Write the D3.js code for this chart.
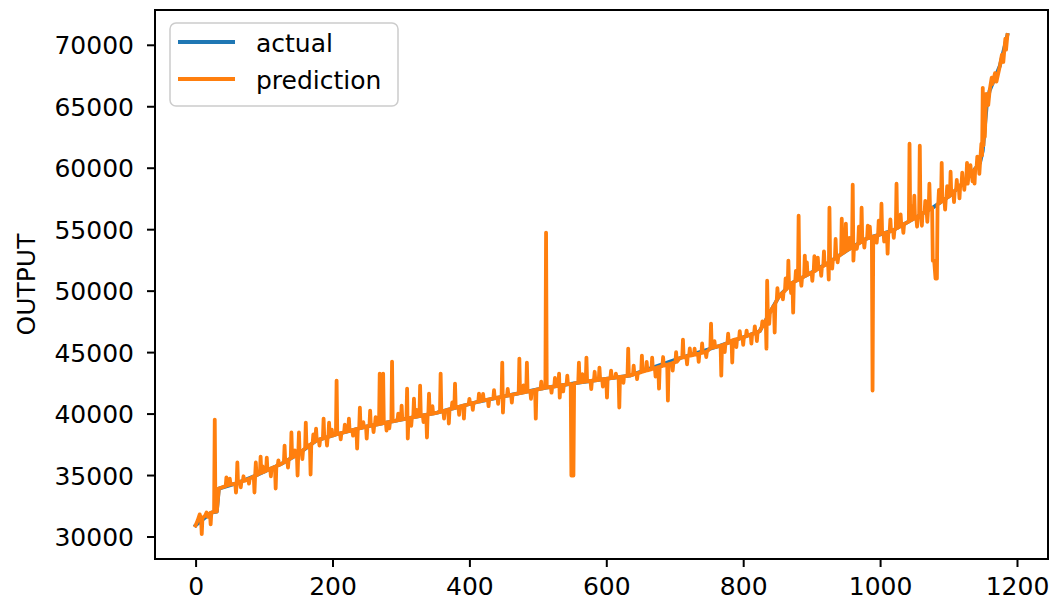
<!DOCTYPE html>
<html>
<head>
<meta charset="utf-8">
<script src="https://cdn.jsdelivr.net/npm/d3@7"></script>
<style>
  body { margin: 0; background: #fff; }
  text { font-family: "DejaVu Sans", sans-serif; fill: #000; }
</style>
</head>
<body>
<svg id="chart" width="1055" height="603"></svg>
<script>
// sorted target values ("actual") as [index, value]
const actual = [
  [0, 30900], [23, 31950], [31, 32030], [34, 33900], [58, 34300], [88, 34960],
  [126, 35930], [151, 36750], [176, 37800], [205, 38300], [249, 38940], [293, 39430],
  [353, 40080], [414, 40980], [512, 42110], [560, 42520], [634, 43090], [707, 44500],
  [765, 45500], [824, 46700], [843, 48620], [853, 49600], [872, 50650], [897, 51380],
  [922, 52190], [951, 53250], [980, 54230], [1018, 54880], [1039, 55530], [1077, 56750],
  [1102, 57720], [1127, 59100], [1146, 60400], [1150, 61380], [1156, 65200], [1160, 66260],
  [1175, 68290], [1186, 70800]
];

// model output: follows the actual curve with spikes, [index, value]
const prediction = [
  [0, 30900], [3, 31300], [6, 31800], [8, 31400], [9, 30200], [10, 31500], [14, 31700],
  [16, 31950], [18, 31600], [21, 31900], [22, 30980], [23, 31950], [27, 32000], [28, 39510],
  [29, 32030], [31, 32030], [34, 33900], [44, 34100], [45, 34800], [46, 34150],
  [49, 34200], [50, 34700], [51, 34220], [58, 34300], [59, 33580], [60, 34300], [61, 36020],
  [62, 34330], [65, 34450], [66, 34000], [67, 34470], [69, 34500], [70, 34900], [71, 34520],
  [77, 34680], [78, 34300], [79, 34700], [85, 34900], [86, 33580], [87, 34940], [88, 36020],
  [89, 34980], [94, 35150], [95, 36500], [96, 35170], [97, 35200], [98, 35700], [99, 35240],
  [103, 35350], [104, 36420], [105, 35400], [109, 35510], [110, 34900], [111, 35560],
  [116, 35680], [117, 33900], [118, 35730], [120, 35780], [121, 36200], [122, 35800],
  [126, 35930], [129, 36030], [130, 37400], [131, 36100], [134, 36200], [135, 35600],
  [136, 36250], [139, 36360], [140, 38460], [141, 36430], [144, 36520], [145, 37000],
  [146, 36580], [148, 36650], [149, 34960], [150, 36720], [151, 38460], [152, 36790],
  [155, 36920], [156, 36300], [157, 37000], [160, 37170], [161, 39270], [162, 37250],
  [167, 37460], [168, 35040], [169, 37500], [171, 37590], [172, 38300], [173, 37670],
  [175, 37760], [176, 38780], [177, 37820], [180, 37870], [181, 37400], [182, 37900],
  [186, 37980], [187, 39590], [188, 38000], [191, 38050], [192, 37400], [193, 38100],
  [194, 38110], [195, 39270], [196, 38150], [198, 38180], [199, 38700], [200, 38200],
  [205, 38300], [206, 42680], [207, 38330], [211, 38390], [212, 37900], [213, 38420],
  [217, 38480], [218, 39100], [219, 38500], [223, 38560], [224, 39590], [225, 38580],
  [229, 38650], [230, 38200], [231, 38670], [235, 38740], [236, 37150], [237, 38760],
  [239, 38790], [240, 40490], [241, 38810], [244, 38870], [245, 39300], [246, 38890],
  [249, 38940], [250, 37970], [251, 38960], [254, 39000], [255, 40240], [256, 39020],
  [259, 39050], [260, 38500], [261, 39070], [262, 39080], [263, 39700], [264, 39100],
  [268, 39150], [269, 43250], [270, 39170], [273, 39200], [274, 43250], [275, 39220],
  [278, 39260], [279, 38620], [280, 39280], [282, 39300], [283, 38800], [284, 39320],
  [286, 39350], [287, 44230], [288, 39370], [293, 39430], [295, 39450], [296, 40000],
  [297, 39470], [300, 39510], [301, 40650], [302, 39530], [308, 39590], [309, 42030],
  [310, 37970], [311, 39620], [314, 39650], [315, 39000], [316, 39670], [318, 39700],
  [319, 41220], [320, 39720], [322, 39740], [323, 40300], [324, 39760], [327, 39800],
  [328, 42280], [329, 39810], [332, 39850], [333, 39300], [334, 39870], [337, 39900],
  [338, 38050], [339, 39920], [340, 39930], [341, 41630], [342, 39950], [345, 39980],
  [346, 40600], [347, 40000], [353, 40080], [357, 40140], [358, 43250], [359, 40160],
  [362, 40200], [363, 39600], [364, 40230], [369, 40320], [370, 39190], [371, 40350],
  [374, 40390], [375, 40900], [376, 40420], [378, 40450], [379, 42440], [380, 40480],
  [384, 40540], [385, 39900], [386, 40570], [391, 40640], [392, 39590], [393, 40670],
  [399, 40760], [400, 41200], [401, 40790], [404, 40830], [405, 40300], [406, 40860],
  [413, 40970], [414, 41630], [415, 40990], [419, 41050], [420, 41600], [421, 41070],
  [427, 41140], [428, 40600], [429, 41160], [435, 41230], [436, 41900], [437, 41250],
  [441, 41300], [442, 40800], [443, 41320], [447, 41360], [448, 44150], [449, 40080],
  [450, 41390], [455, 41450], [456, 42000], [457, 41470], [461, 41520], [462, 40900],
  [463, 41540], [472, 41640], [473, 44470], [474, 41660], [478, 41710], [479, 42300],
  [480, 41730], [483, 41760], [484, 44150], [485, 41780], [489, 41830], [490, 41200],
  [491, 41850], [496, 41920], [497, 39590], [498, 41940], [504, 42010], [505, 42600],
  [506, 42030], [511, 42100], [512, 54720], [513, 42120], [519, 42170], [520, 41700],
  [521, 42180], [524, 42200], [525, 42900], [526, 42220], [530, 42270], [531, 43250],
  [532, 41300], [533, 42290], [536, 42310], [537, 41800], [538, 42330], [542, 42370],
  [543, 43090], [544, 42390], [548, 42420], [549, 34960], [552, 34960], [553, 42460],
  [559, 42510], [560, 44150], [561, 42530], [564, 42550], [565, 43200], [566, 42570],
  [570, 42600], [571, 44550], [572, 42620], [577, 42650], [578, 42000], [579, 42670],
  [582, 42690], [583, 43400], [584, 42700], [589, 42750], [590, 43740], [591, 42770],
  [594, 42790], [595, 42200], [596, 42800], [600, 42830], [601, 41300], [602, 42850],
  [606, 42880], [607, 43500], [608, 42890], [613, 42930], [614, 43250], [615, 42940],
  [618, 42970], [619, 40490], [620, 42980], [624, 43010], [625, 42500], [626, 43030],
  [631, 43070], [632, 45280], [633, 43080], [634, 43090], [639, 43170], [640, 43900],
  [641, 43210], [644, 43260], [645, 42800], [646, 43290], [651, 43370], [652, 44720],
  [653, 43410], [658, 43490], [659, 44200], [660, 43510], [666, 43620], [667, 44550],
  [668, 43640], [671, 43690], [672, 43000], [673, 43710], [676, 43780], [677, 42030],
  [678, 43800], [682, 43880], [683, 44600], [684, 43900], [689, 43980], [690, 41060],
  [691, 44000], [696, 44100], [697, 43500], [698, 44130], [701, 44180], [702, 45000],
  [703, 44200], [707, 44500], [711, 44560], [712, 46020], [713, 44570], [717, 44640],
  [718, 44000], [719, 44670], [721, 44700], [722, 45300], [723, 44720], [728, 44770],
  [729, 45280], [730, 44790], [734, 44860], [735, 44200], [736, 44880], [739, 44930],
  [740, 45700], [741, 44950], [745, 45010], [746, 44600], [747, 45030], [752, 45320],
  [753, 47320], [754, 45340], [757, 45390], [758, 45900], [759, 45410], [765, 45500],
  [767, 45530], [768, 43090], [769, 45560], [772, 45620], [773, 45000], [774, 45660],
  [777, 45720], [778, 46500], [779, 45760], [783, 45920], [784, 44150], [785, 45970],
  [789, 46030], [790, 45400], [791, 46060], [794, 46100], [795, 46700], [796, 46130],
  [799, 46180], [800, 45600], [801, 46210], [804, 46290], [805, 46750], [806, 46330],
  [811, 46430], [812, 45700], [813, 46460], [816, 46520], [817, 47100], [818, 46550],
  [819, 46570], [820, 45900], [821, 46600], [824, 46700], [827, 47000], [828, 47500],
  [829, 47100], [833, 47600], [834, 45280], [835, 50810], [836, 47900], [837, 48000],
  [838, 47300], [839, 48200], [843, 48620], [845, 48800], [846, 46590], [847, 48980],
  [849, 49200], [850, 50200], [851, 49400], [853, 49600], [857, 49800], [858, 49300],
  [859, 49900], [861, 49980], [862, 51000], [863, 50100], [865, 50260], [866, 52440],
  [867, 50370], [869, 50480], [870, 49800], [871, 50590], [872, 50650], [873, 48210],
  [874, 50700], [876, 50760], [877, 51600], [878, 50820], [880, 50880], [881, 56100],
  [882, 50940], [884, 51000], [885, 50400], [886, 51060], [889, 51140], [890, 52850],
  [891, 51200], [892, 51230], [893, 52300], [894, 51290], [897, 51380], [900, 51480],
  [901, 50800], [902, 51540], [903, 51570], [904, 52800], [905, 51600], [908, 51740],
  [909, 52680], [910, 51770], [913, 51860], [914, 51200], [915, 51930], [917, 52000],
  [918, 53200], [919, 52060], [922, 52190], [924, 52260], [925, 50890], [926, 56750],
  [927, 52370], [929, 52440], [930, 51800], [931, 52480], [934, 52620], [935, 54200],
  [936, 52700], [937, 52730], [938, 52300], [939, 52770], [943, 52950], [944, 55850],
  [945, 53030], [949, 53180], [950, 55450], [951, 53250], [954, 53350], [955, 54300],
  [956, 53420], [959, 53520], [960, 58620], [961, 52440], [962, 53600], [965, 53700],
  [966, 53400], [967, 53790], [968, 53800], [969, 55200], [970, 53860], [972, 53960],
  [973, 56750], [974, 54030], [976, 54100], [977, 53500], [978, 54160], [980, 54230],
  [981, 54240], [982, 55280], [983, 54280], [984, 54290], [985, 55200], [986, 54320],
  [988, 54370], [989, 41870], [990, 54400], [994, 54460], [995, 53900], [996, 54500],
  [997, 54510], [998, 55700], [999, 54540], [1001, 54630], [1002, 57070], [1003, 54650],
  [1005, 54680], [1006, 54000], [1007, 54700], [1010, 54730], [1011, 53010], [1012, 54770],
  [1014, 54800], [1015, 55800], [1016, 54840], [1018, 54880], [1019, 54910], [1020, 54300],
  [1021, 54970], [1023, 55030], [1024, 58700], [1025, 55090], [1029, 55220], [1030, 56200],
  [1031, 55280], [1033, 55340], [1034, 54700], [1035, 55400], [1039, 55530], [1042, 55620],
  [1043, 61950], [1044, 55690], [1045, 55720], [1046, 56900], [1047, 55780], [1049, 55840],
  [1050, 57720], [1051, 55880], [1053, 55940], [1054, 55200], [1055, 56000], [1057, 56100],
  [1058, 61790], [1059, 56130], [1060, 56160], [1061, 55280], [1062, 56280], [1065, 56380],
  [1066, 57300], [1067, 56440], [1068, 56470], [1069, 55600], [1070, 56530], [1071, 56560],
  [1072, 58700], [1073, 56620], [1076, 56720], [1077, 52440], [1079, 52440], [1081, 50980],
  [1083, 50980], [1084, 57020], [1085, 57060], [1086, 58200], [1087, 57140], [1089, 57220],
  [1090, 60400], [1091, 57290], [1094, 57410], [1095, 56600], [1096, 57490], [1097, 57530],
  [1098, 58500], [1099, 57600], [1102, 57720], [1103, 59670], [1104, 57830], [1107, 58000],
  [1108, 57200], [1109, 58110], [1111, 58220], [1112, 59000], [1113, 58340], [1115, 58440],
  [1116, 57500], [1117, 58550], [1119, 58660], [1120, 59600], [1121, 58770], [1122, 58830],
  [1123, 58200], [1124, 58940], [1126, 59050], [1127, 60400], [1128, 58700], [1129, 59240],
  [1131, 59370], [1132, 60200], [1133, 59510], [1134, 59580], [1135, 58900], [1136, 59710],
  [1137, 59780], [1138, 58700], [1139, 59920], [1141, 60060], [1142, 60900], [1143, 60200],
  [1144, 60260], [1145, 59500], [1146, 60400], [1148, 61950], [1149, 61000], [1150, 66500],
  [1151, 61800], [1152, 63500], [1153, 62500], [1155, 66000], [1156, 65200], [1158, 65100],
  [1160, 66260], [1163, 67320], [1164, 66800], [1168, 67700], [1170, 67000], [1175, 68290],
  [1178, 69200], [1180, 68600], [1183, 70500], [1184, 69600], [1186, 70800]
];

const xTicks = [0, 200, 400, 600, 800, 1000, 1200];
const yTicks = [30000, 35000, 40000, 45000, 50000, 55000, 60000, 65000, 70000];
const seriesNames = ['actual', 'prediction'];
const seriesColors = ['#1f77b4', '#ff7f0e'];

const svg = d3.select('#chart');
const margin = {top: 10, right: 7, bottom: 44, left: 155};
const width = 1055 - margin.left - margin.right,
      height = 603 - margin.top - margin.bottom;

const g = svg.append('g')
    .attr('transform', 'translate(' + margin.left + ',' + margin.top + ')');

// matplotlib-like 5% padding around the data range
const all = actual.concat(prediction);
const xExt = d3.extent(all, d => d[0]);
const yExt = d3.extent(all, d => d[1]);
const xPad = (xExt[1] - xExt[0]) * 0.05, yPad = (yExt[1] - yExt[0]) * 0.05;

const x = d3.scaleLinear().domain([xExt[0] - xPad, xExt[1] + xPad]).range([0, width]);
const y = d3.scaleLinear().domain([yExt[0] - yPad, yExt[1] + yPad]).range([height, 0]);

const line = d3.line().x(d => x(d[0])).y(d => y(d[1]));

[actual, prediction].forEach((data, i) => {
  g.append('path')
      .datum(data)
      .attr('fill', 'none')
      .attr('stroke', seriesColors[i])
      .attr('stroke-width', 3.8)
      .attr('stroke-linejoin', 'round')
      .attr('stroke-linecap', 'square')
      .attr('d', line);
});

// axes
const xAxis = g.append('g')
    .attr('transform', 'translate(0,' + height + ')')
    .call(d3.axisBottom(x).tickValues(xTicks).tickFormat(d3.format('d')).tickSize(8).tickPadding(10).tickSizeOuter(0));
const yAxis = g.append('g')
    .call(d3.axisLeft(y).tickValues(yTicks).tickFormat(d3.format('d')).tickSize(8).tickPadding(13).tickSizeOuter(0));

[xAxis, yAxis].forEach(a => {
  a.select('.domain').remove();
  a.selectAll('line').attr('stroke', '#000').attr('stroke-width', 2);
  a.selectAll('text').attr('font-size', 25).attr('font-family', '"DejaVu Sans", sans-serif').attr('fill', '#000');
});
yAxis.selectAll('text').attr('dy', '0.36em');

// frame
g.append('rect')
    .attr('width', width).attr('height', height)
    .attr('fill', 'none').attr('stroke', '#000').attr('stroke-width', 2);

// y label
svg.append('text')
    .attr('transform', 'translate(35,' + (margin.top + height / 2) + ') rotate(-90)')
    .attr('text-anchor', 'middle')
    .attr('font-size', 25)
    .text('OUTPUT');

// legend
const legend = svg.append('g').attr('transform', 'translate(170,23)');
legend.append('rect')
    .attr('width', 228).attr('height', 83).attr('rx', 6)
    .attr('fill', '#fff').attr('fill-opacity', 0.8)
    .attr('stroke', '#ccc').attr('stroke-width', 1.5);

seriesNames.forEach((name, i) => {
  const ly = 19 + i * 37;
  legend.append('line')
      .attr('x1', 8).attr('x2', 65).attr('y1', ly).attr('y2', ly)
      .attr('stroke', seriesColors[i]).attr('stroke-width', 3.8);
  legend.append('text')
      .attr('x', 86).attr('y', ly + 9.5)
      .attr('font-size', 25)
      .text(name);
});
</script>
</body>
</html>
